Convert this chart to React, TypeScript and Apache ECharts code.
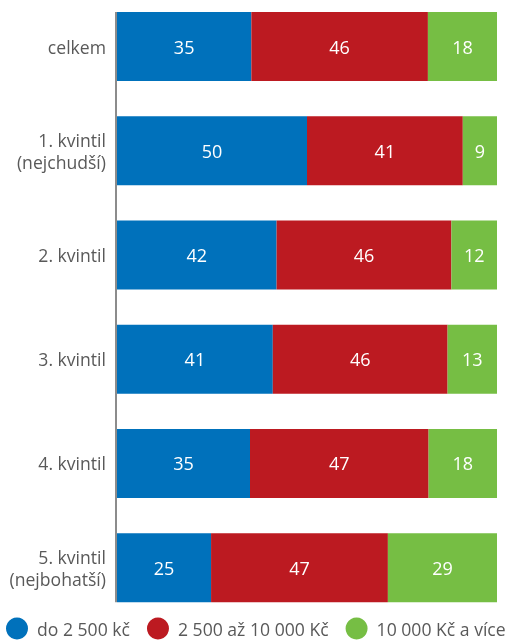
import React, { useEffect, useRef } from "react";
import * as echarts from "echarts";

const categories = [
  "celkem",
  "1. kvintil\n(nejchudší)",
  "2. kvintil",
  "3. kvintil",
  "4. kvintil",
  "5. kvintil\n(nejbohatší)",
];
const seriesNames = ["do 2 500 kč", "2 500 až 10 000 Kč", "10 000 Kč a více"];
const low = [35, 50, 42, 41, 35, 25];
const mid = [46, 41, 46, 46, 47, 47];
const high = [18, 9, 12, 13, 18, 29];
const colors = ["#0071bb", "#bc1a21", "#76be44"];

const FONT = "'Open Sans', 'Noto Sans', sans-serif";
const SHIFT = 6;

export default function App() {
  const ref = useRef<HTMLDivElement>(null);
  useEffect(() => {
    if (!ref.current) return;
    const chart = echarts.init(ref.current, undefined, { renderer: "svg" });
    const raw = [low, mid, high];
    const totals = categories.map((_, i) => low[i] + mid[i] + high[i]);
    const barWidth = 69;
    const series = raw.map((arr, s) => ({
      name: seriesNames[s],
      type: "bar",
      stack: "total",
      barWidth,
      itemStyle: { color: colors[s] },
      label: {
        show: true,
        position: "inside",
        color: "#ffffff",
        fontSize: 18,
        fontFamily: FONT,
        formatter: (p: any) => String(arr[p.dataIndex]),
      },
      data: arr.map((v, i) => (v / totals[i]) * 100),
    }));
    chart.setOption({
      animation: false,
      textStyle: { fontFamily: FONT },
      grid: { left: 117, right: 9, top: 0.4, height: 625.4, containLabel: false },
      xAxis: { type: "value", min: 0, max: 100, show: false },
      yAxis: {
        type: "category",
        inverse: true,
        data: categories,
        axisLine: { show: false },
        axisTick: { show: false },
        axisLabel: {
          color: "#595959",
          fontSize: 17.6,
          fontFamily: FONT,
          margin: 11,
          lineHeight: 22,
          align: "right",
        },
      },
      legend: {
        data: seriesNames,
        left: 6,
        top: 623.5,
        icon: "circle",
        itemWidth: 22,
        itemHeight: 22,
        itemGap: 17,
        textStyle: {
          color: "#595959",
          fontSize: 17.6,
          lineHeight: 18,
          fontFamily: FONT,
          padding: [0, 0, 0, 4],
        },
        padding: 0,
      },
      series,
    });
    const x = chart.convertToPixel({ xAxisIndex: 0 }, 0) as number;
    const y0 = chart.convertToPixel({ yAxisIndex: 0 }, categories[0]) as number;
    const y1 = chart.convertToPixel({ yAxisIndex: 0 }, categories[categories.length - 1]) as number;
    chart.setOption({
      graphic: [
        {
          type: "line",
          shape: { x1: x - 1, y1: y0 - barWidth / 2, x2: x - 1, y2: y1 + barWidth / 2 },
          style: { stroke: "#8c8c8c", lineWidth: 2 },
          z: 10,
        },
      ],
    });
    return () => chart.dispose();
  }, []);
  return (
    <div
      ref={ref}
      style={{ position: "fixed", left: 0, top: -SHIFT, width: 506, height: 641 + SHIFT }}
    />
  );
}
